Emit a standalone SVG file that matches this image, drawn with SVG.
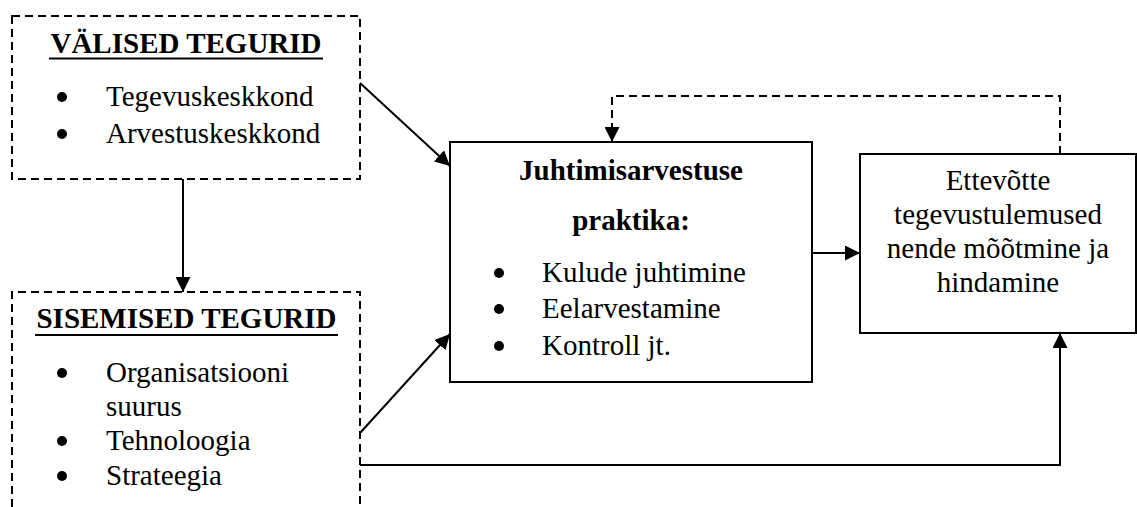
<svg xmlns="http://www.w3.org/2000/svg" width="1137" height="507" viewBox="0 0 1137 507">
  <style>
    text { font-family: "Liberation Serif", "Times New Roman", serif; font-size: 29px; fill: #000; }
    .b { font-weight: bold; }
    .c { text-anchor: middle; }
    .box { fill: #fff; stroke: #000; stroke-width: 2; }
    .dash { fill: none; stroke: #000; stroke-width: 2; stroke-dasharray: 8 5; }
    .ul { stroke: #000; stroke-width: 2; }
    .wire { fill: none; stroke: #000; stroke-width: 2; }
    .dot { fill: #000; }
  </style>
  <defs>
    <marker id="arrow" viewBox="0 0 15 15" refX="15" refY="7.5" markerWidth="15" markerHeight="15" markerUnits="userSpaceOnUse" orient="auto">
      <path d="M0,0 L15,7.5 L0,15 Z" fill="#000"/>
    </marker>
  </defs>

  <rect width="1137" height="507" fill="#fff"/>

  <!-- External factors -->
  <g id="valised">
    <rect x="12" y="16" width="348" height="163" class="dash"/>
    <text x="186" y="53" class="b c">VÄLISED TEGURID</text>
    <line x1="49" y1="58.5" x2="323" y2="58.5" class="ul"/>
    <circle cx="62" cy="97" r="5" class="dot"/>
    <text x="106" y="106">Tegevuskeskkond</text>
    <circle cx="62" cy="134" r="5" class="dot"/>
    <text x="106" y="143">Arvestuskeskkond</text>
  </g>

  <!-- Internal factors -->
  <g id="sisemised">
    <path d="M12,520 V292 H360 V520" class="dash"/>
    <text x="186.5" y="328" class="b c">SISEMISED TEGURID</text>
    <line x1="35" y1="335" x2="338" y2="335" class="ul"/>
    <circle cx="62" cy="373" r="5" class="dot"/>
    <text x="106" y="382">Organisatsiooni</text>
    <text x="106" y="416">suurus</text>
    <circle cx="62" cy="441" r="5" class="dot"/>
    <text x="106" y="450">Tehnoloogia</text>
    <circle cx="62" cy="476" r="5" class="dot"/>
    <text x="106" y="485">Strateegia</text>
  </g>

  <!-- Management accounting practice -->
  <g id="praktika">
    <rect x="450" y="142" width="362" height="240" class="box"/>
    <text x="631" y="180" class="b c">Juhtimisarvestuse</text>
    <text x="631" y="230" class="b c">praktika:</text>
    <circle cx="499" cy="273" r="5" class="dot"/>
    <text x="542" y="282">Kulude juhtimine</text>
    <circle cx="499" cy="309" r="5" class="dot"/>
    <text x="542" y="318">Eelarvestamine</text>
    <circle cx="499" cy="346" r="5" class="dot"/>
    <text x="542" y="355">Kontroll jt.</text>
  </g>

  <!-- Company performance -->
  <g id="tulemused">
    <rect x="860" y="154" width="276" height="179" class="box"/>
    <text x="998" y="190" class="c">Ettevõtte</text>
    <text x="998" y="224" class="c">tegevustulemused</text>
    <text x="998" y="258" class="c">nende mõõtmine ja</text>
    <text x="998" y="292" class="c">hindamine</text>
  </g>

  <!-- Connectors -->
  <g id="connectors">
    <line x1="183" y1="179" x2="183" y2="292" class="wire" marker-end="url(#arrow)"/>
    <line x1="360" y1="83" x2="450" y2="166" class="wire" marker-end="url(#arrow)"/>
    <line x1="360" y1="433" x2="450" y2="334" class="wire" marker-end="url(#arrow)"/>
    <line x1="812" y1="253" x2="860" y2="253" class="wire" marker-end="url(#arrow)"/>
    <path d="M360,465 H1060 V333" class="wire" marker-end="url(#arrow)"/>
    <path d="M1060,154 V96 H612 V142" class="dash" marker-end="url(#arrow)"/>
  </g>
</svg>
